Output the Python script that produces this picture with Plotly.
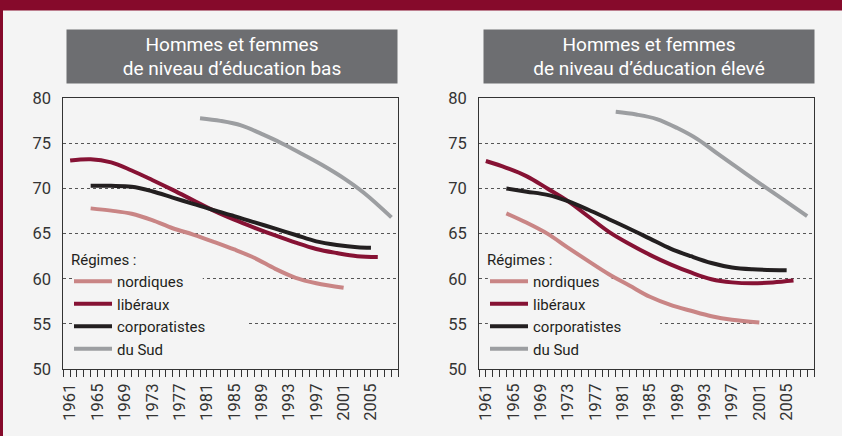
import plotly.graph_objects as go

# ---------------- data ----------------
years_lib_bas = [1961, 1964, 1967, 1970, 1973, 1976, 1979, 1982, 1985, 1988, 1991, 1994, 1997, 2000, 2003, 2006]
lib_bas = [73.1, 73.25, 72.9, 72.0, 70.95, 69.85, 68.7, 67.55, 66.55, 65.65, 64.8, 64.0, 63.3, 62.85, 62.5, 62.4]

years_cor_bas = [1964, 1967, 1970, 1973, 1976, 1979, 1982, 1985, 1988, 1991, 1994, 1997, 2000, 2003, 2005]
cor_bas = [70.3, 70.3, 70.2, 69.7, 69.0, 68.3, 67.6, 66.95, 66.25, 65.55, 64.85, 64.15, 63.75, 63.5, 63.45]

years_nor_bas = [1964, 1967, 1970, 1973, 1976, 1979, 1982, 1985, 1988, 1991, 1994, 1997, 2001]
nor_bas = [67.8, 67.55, 67.2, 66.5, 65.6, 64.9, 64.1, 63.25, 62.3, 61.1, 60.1, 59.5, 59.0]

years_sud_bas = [1980, 1983, 1986, 1989, 1992, 1995, 1998, 2001, 2004, 2008]
sud_bas = [77.8, 77.5, 77.0, 76.05, 75.0, 73.8, 72.55, 71.15, 69.5, 66.8]

years_lib_eleve = [1961, 1964, 1967, 1970, 1973, 1976, 1979, 1982, 1985, 1988, 1991, 1994, 1997, 2000, 2003, 2006]
lib_eleve = [73.05, 72.3, 71.35, 70.0, 68.6, 66.9, 65.2, 63.85, 62.65, 61.6, 60.7, 59.95, 59.6, 59.5, 59.6, 59.8]

years_cor_eleve = [1964, 1967, 1970, 1973, 1976, 1979, 1982, 1985, 1988, 1991, 1994, 1997, 2000, 2005]
cor_eleve = [70.0, 69.65, 69.3, 68.6, 67.65, 66.6, 65.55, 64.45, 63.35, 62.5, 61.75, 61.25, 61.05, 60.95]

years_nor_eleve = [1964, 1967, 1970, 1973, 1976, 1979, 1982, 1985, 1988, 1991, 1994, 1997, 2001]
nor_eleve = [67.25, 66.2, 65.0, 63.45, 61.95, 60.5, 59.25, 58.0, 57.1, 56.45, 55.85, 55.45, 55.15]

years_sud_eleve = [1980, 1983, 1986, 1989, 1992, 1995, 1998, 2001, 2004, 2008]
sud_eleve = [78.5, 78.2, 77.7, 76.7, 75.45, 73.8, 72.2, 70.6, 69.05, 66.95]

panel_titles = ["Hommes et femmes<br>de niveau d’éducation bas",
                "Hommes et femmes<br>de niveau d’éducation élevé"]
regime_names = ["nordiques", "libéraux", "corporatistes", "du Sud"]
legend_title = "Régimes :"
year_ticks = list(range(1961, 2006, 4))
y_ticks = [50, 55, 60, 65, 70, 75, 80]

# ---------------- style ----------------
colors = ["#c98585", "#861234", "#231f20", "#9c9ea1"]
BG = "#f4f4f4"
MAROON = "#860a2b"
FONT = "Roboto, Liberation Sans, sans-serif"
W, H = 842, 436

def px_x(p):
    return p / W

def px_y(p):
    return 1 - p / H

fig = go.Figure()

panels = [
    ([years_nor_bas, years_lib_bas, years_cor_bas, years_sud_bas],
     [nor_bas, lib_bas, cor_bas, sud_bas], "x", "y", "legend"),
    ([years_nor_eleve, years_lib_eleve, years_cor_eleve, years_sud_eleve],
     [nor_eleve, lib_eleve, cor_eleve, sud_eleve], "x2", "y2", "legend2"),
]

for xs_list, ys_list, xa, ya, lg in panels:
    for name, xs, ys, c in zip(regime_names, xs_list, ys_list, colors):
        fig.add_trace(go.Scatter(
            x=xs, y=ys, mode="lines", name=name,
            line=dict(color=c, width=4, shape="spline", smoothing=1.0),
            xaxis=xa, yaxis=ya, legend=lg, hoverinfo="skip"))

xdoms = [[px_x(63.3), px_x(398.3)], [px_x(479), px_x(814)]]
ydom = [px_y(369), px_y(98.3)]

axis_common = dict(showline=True, linecolor="#333333", linewidth=1, mirror=True,
                   automargin=False, zeroline=False)

for i, (xa, ya) in enumerate([("xaxis", "yaxis"), ("xaxis2", "yaxis2")]):
    anchor_y = "y" if i == 0 else "y2"
    anchor_x = "x" if i == 0 else "x2"
    fig.update_layout({
        xa: dict(domain=xdoms[i], anchor=anchor_y, range=[1960, 2009],
                 tickmode="array", tickvals=year_ticks, ticktext=[str(v) for v in year_ticks],
                 ticks="outside", ticklen=7, tickwidth=1, tickcolor="#333333",
                 tickangle=-90, showgrid=False,
                 tickfont=dict(family=FONT, size=16.5, color="#333333"),
                 minor=dict(ticks="outside", ticklen=7, tickwidth=1, tickcolor="#333333",
                            dtick=1, tick0=1960, showgrid=False),
                 **axis_common),
        ya: dict(domain=ydom, anchor=anchor_x, range=[50, 80],
                 tickmode="array", tickvals=y_ticks,
                 ticks="outside", ticklen=8, tickcolor="rgba(0,0,0,0)",
                 showgrid=True, gridcolor="#555555", gridwidth=1, griddash="dot",
                 tickfont=dict(family=FONT, size=16.5, color="#333333"),
                 **axis_common),
    })

# legends
leg_common = dict(bgcolor="rgba(0,0,0,0)", borderwidth=0,
                  font=dict(family=FONT, size=15, color="#231f20"),
                  title=dict(text=legend_title, font=dict(family=FONT, size=15, color="#231f20")),
                  tracegroupgap=0, itemwidth=38, xanchor="left", yanchor="top")
fig.update_layout(
    legend=dict(x=px_x(69), y=px_y(245.5), **leg_common),
    legend2=dict(x=px_x(485), y=px_y(245.5), **leg_common),
)

shapes = []
# top bar and left border
shapes.append(dict(type="rect", xref="paper", yref="paper", x0=0, x1=1,
                   y0=px_y(10.5), y1=1, fillcolor=MAROON, line=dict(width=0), layer="above"))
shapes.append(dict(type="rect", xref="paper", yref="paper", x0=0, x1=px_x(3),
                   y0=0, y1=1, fillcolor=MAROON, line=dict(width=0), layer="above"))

# background patches behind legend rows: hide gridlines but stay under the curves
# (axis-referenced so that the 'between' layer applies)
patches = [("x", "y", 1961.4, 1980.4, 60), ("x", "y", 1961.4, 1987.0, 55),
           ("x2", "y2", 1961.3, 1979.4, 60), ("x2", "y2", 1961.3, 1986.5, 55)]
for xr, yr, x0, x1, gy in patches:
    shapes.append(dict(type="rect", xref=xr, yref=yr, x0=x0, x1=x1,
                       y0=gy - 0.6, y1=gy + 0.6,
                       fillcolor=BG, line=dict(width=0), layer="between"))

annotations = []
for (cx, title) in zip([232, 648.5], panel_titles):
    annotations.append(dict(
        xref="paper", yref="paper", x=px_x(cx), y=px_y(56.5),
        xanchor="center", yanchor="middle", text=title, showarrow=False,
        font=dict(family=FONT, size=19, color="white"),
        bgcolor="#6d6e71", width=330, height=53, borderpad=0, align="center"))

fig.update_layout(
    width=W, height=H,
    margin=dict(l=0, r=0, t=0, b=0),
    paper_bgcolor=BG, plot_bgcolor=BG,
    shapes=shapes, annotations=annotations,
    showlegend=True,
)

fig.write_html("out.html", config={"displayModeBar": False},
               post_script="document.body.style.margin='0px';document.body.style.background='%s';" % BG)
